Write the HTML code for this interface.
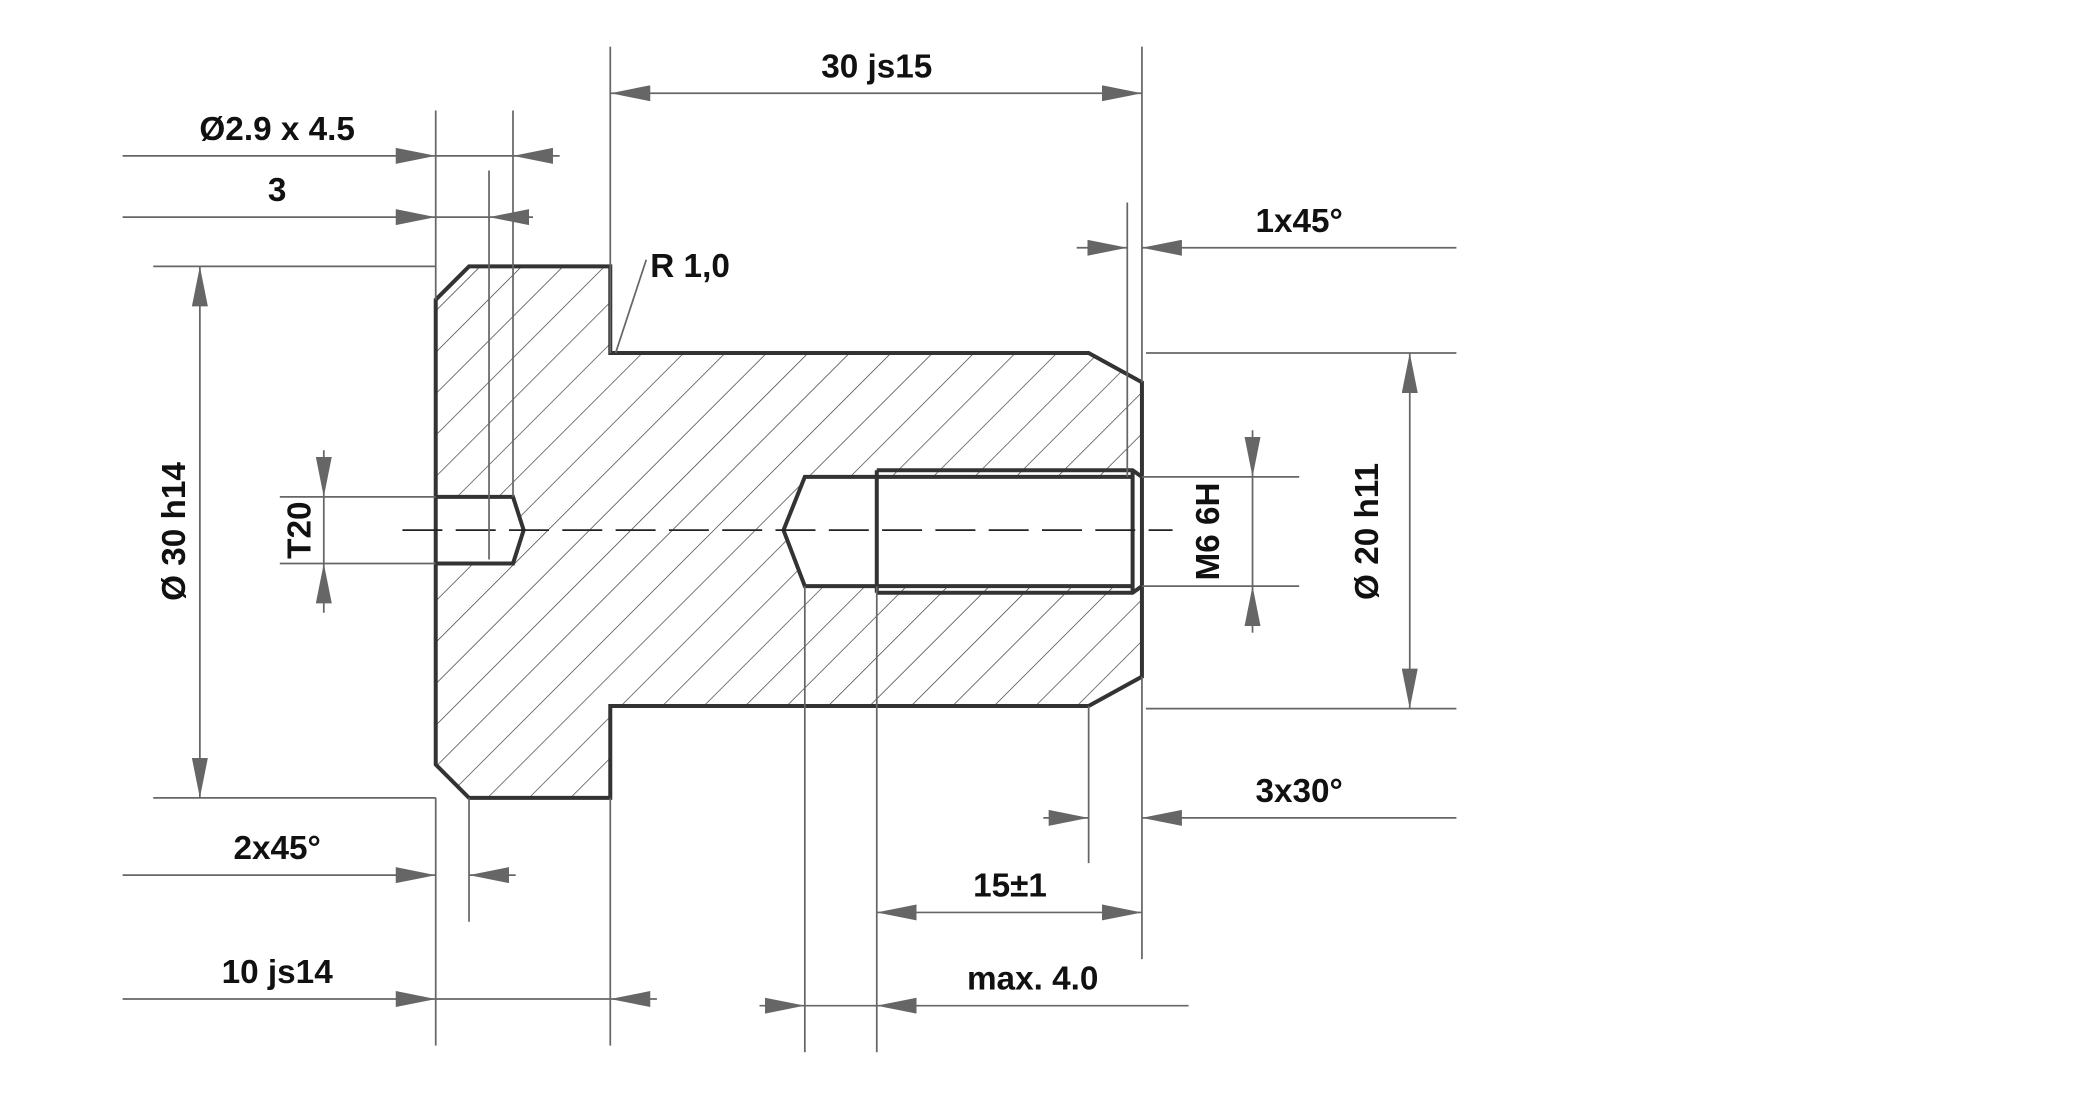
<!DOCTYPE html>
<html><head><meta charset="utf-8"><style>
html,body{margin:0;padding:0;background:#fff;}
svg{display:block;}
text{font-family:"Liberation Sans",Arial,sans-serif;font-weight:bold;font-size:25px;fill:#111;}
</style></head><body>
<svg width="2088" height="1094" viewBox="0 0 1567 821.3" preserveAspectRatio="none" xmlns="http://www.w3.org/2000/svg">
<defs>
<pattern id="h" patternUnits="userSpaceOnUse" width="22" height="22" patternTransform="rotate(45)">
<line x1="0" y1="0" x2="0" y2="22" stroke="#333" stroke-width="1"/>
</pattern>
<marker id="a" viewBox="0 0 30 12" refX="30" refY="6" markerWidth="30" markerHeight="12" markerUnits="userSpaceOnUse" orient="auto-start-reverse">
<path d="M0,0 L30,6 L0,12 z" fill="#666"/>
</marker>
</defs>
<path fill="url(#h)" fill-rule="evenodd" stroke="none" d="M327,225 L352,200 L458,200 L458,265 L817,265 L857,287 L857,508 L817,530 L458,530 L458,599 L352,599 L327,574 Z
M327,373 L385,373 L393,398 L385,423 L327,423 Z
M604,358 L857,358 L857,440 L604,440 L588,398 Z"/>
<path fill="none" stroke="#333" stroke-width="3" d="M327,225 L352,200 L458,200 L458,265 L817,265 L857,287 L857,508 L817,530 L458,530 L458,599 L352,599 L327,574 Z"/>
<path fill="none" stroke="#333" stroke-width="3" d="M327,373 L385,373 L393,398 L385,423 L327,423"/>
<path fill="none" stroke="#333" stroke-width="3" d="M850,358 L604,358 L588,398 L604,440 L850,440 M658,353 L850,353 L857,358 M658,445 L850,445 L857,440 M658,353 L658,445 M850,353 L850,445"/>
<line x1="302" y1="398" x2="880" y2="398" stroke="#222" stroke-width="1.3" stroke-dasharray="30,10"/>
<g stroke="#666" stroke-width="1.3" fill="none">
<line x1="458" y1="35" x2="458" y2="265"/><line x1="857" y1="35" x2="857" y2="287"/>
<line x1="327" y1="83" x2="327" y2="225"/><line x1="385" y1="83" x2="385" y2="373"/>
<line x1="367" y1="128" x2="367" y2="420"/>
<line x1="846" y1="152" x2="846" y2="358"/>
<line x1="115" y1="200" x2="327" y2="200"/><line x1="115" y1="599" x2="327" y2="599"/>
<line x1="210" y1="373" x2="327" y2="373"/><line x1="210" y1="423" x2="327" y2="423"/>
<line x1="857" y1="358" x2="975" y2="358"/><line x1="857" y1="440" x2="975" y2="440"/>
<line x1="860" y1="265" x2="1093" y2="265"/><line x1="860" y1="532" x2="1093" y2="532"/>
<line x1="817" y1="530" x2="817" y2="648"/><line x1="857" y1="508" x2="857" y2="720"/>
<line x1="352" y1="599" x2="352" y2="692"/>
<line x1="327" y1="599" x2="327" y2="785"/><line x1="458" y1="599" x2="458" y2="785"/>
<line x1="604" y1="440" x2="604" y2="790"/><line x1="658" y1="440" x2="658" y2="790"/>
<line x1="462" y1="265" x2="485" y2="195"/>
<line x1="458" y1="70" x2="857" y2="70" marker-start="url(#a)" marker-end="url(#a)"/>
<line x1="92" y1="117" x2="327" y2="117" marker-end="url(#a)"/><line x1="420" y1="117" x2="385" y2="117" marker-end="url(#a)"/><line x1="327" y1="117" x2="385" y2="117"/>
<line x1="92" y1="163" x2="327" y2="163" marker-end="url(#a)"/><line x1="400" y1="163" x2="367" y2="163" marker-end="url(#a)"/><line x1="327" y1="163" x2="367" y2="163"/>
<line x1="808" y1="186" x2="846" y2="186" marker-end="url(#a)"/><line x1="1093" y1="186" x2="857" y2="186" marker-end="url(#a)"/>
<line x1="150" y1="200" x2="150" y2="599" marker-start="url(#a)" marker-end="url(#a)"/>
<line x1="243" y1="338" x2="243" y2="373" marker-end="url(#a)"/><line x1="243" y1="460" x2="243" y2="423" marker-end="url(#a)"/><line x1="243" y1="373" x2="243" y2="423"/>
<line x1="940" y1="323" x2="940" y2="358" marker-end="url(#a)"/><line x1="940" y1="475" x2="940" y2="440" marker-end="url(#a)"/><line x1="940" y1="358" x2="940" y2="440"/>
<line x1="1058" y1="265" x2="1058" y2="532" marker-start="url(#a)" marker-end="url(#a)"/>
<line x1="783" y1="614" x2="817" y2="614" marker-end="url(#a)"/><line x1="1093" y1="614" x2="857" y2="614" marker-end="url(#a)"/>
<line x1="92" y1="657" x2="327" y2="657" marker-end="url(#a)"/><line x1="387" y1="657" x2="352" y2="657" marker-end="url(#a)"/>
<line x1="658" y1="685" x2="857" y2="685" marker-start="url(#a)" marker-end="url(#a)"/>
<line x1="92" y1="750" x2="327" y2="750" marker-end="url(#a)"/><line x1="493" y1="750" x2="458" y2="750" marker-end="url(#a)"/><line x1="327" y1="750" x2="458" y2="750"/>
<line x1="570" y1="755" x2="604" y2="755" marker-end="url(#a)"/><line x1="892" y1="755" x2="658" y2="755" marker-end="url(#a)"/><line x1="604" y1="755" x2="658" y2="755"/>
</g>
<text x="658" y="58" text-anchor="middle">30 js15</text>
<text x="208" y="105" text-anchor="middle">Ø2.9 x 4.5</text>
<text x="208" y="151" text-anchor="middle">3</text>
<text x="975" y="174" text-anchor="middle">1x45°</text>
<text x="488" y="208">R 1,0</text>
<text x="975" y="602" text-anchor="middle">3x30°</text>
<text x="208" y="645" text-anchor="middle">2x45°</text>
<text x="758" y="673" text-anchor="middle">15±1</text>
<text x="208" y="738" text-anchor="middle">10 js14</text>
<text x="775" y="743" text-anchor="middle">max. 4.0</text>
<text transform="translate(139,399) rotate(-90)" text-anchor="middle">Ø 30 h14</text>
<text transform="translate(233,398) rotate(-90)" text-anchor="middle">T20</text>
<text transform="translate(915,399) rotate(-90)" text-anchor="middle">M6 6H</text>
<text transform="translate(1034,399) rotate(-90)" text-anchor="middle">Ø 20 h11</text>
</svg>
</body></html>
